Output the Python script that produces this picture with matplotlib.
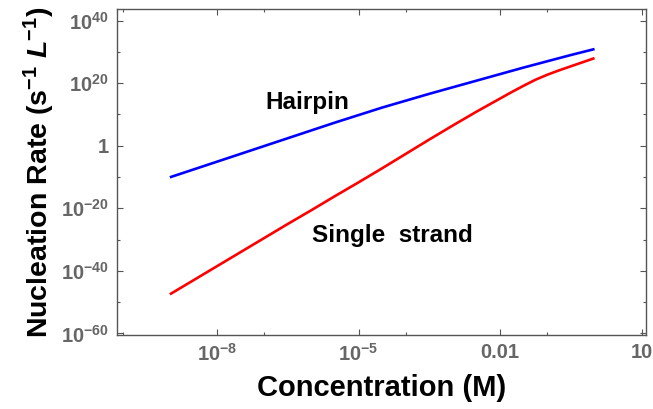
import numpy as np
import matplotlib
matplotlib.use("Agg")
import matplotlib.pyplot as plt
from matplotlib.ticker import FixedLocator, FixedFormatter, NullFormatter

plt.rcParams['font.family'] = ['Liberation Sans', 'DejaVu Sans']
plt.rcParams['mathtext.fontset'] = 'custom'
plt.rcParams['mathtext.rm'] = 'Liberation Sans:bold'
plt.rcParams['mathtext.bf'] = 'Liberation Sans:bold'
plt.rcParams['mathtext.it'] = 'Liberation Sans:italic:bold'
plt.rcParams['mathtext.bfit'] = 'Liberation Sans:italic:bold'

# Data (log10 of concentration in M, log10 of nucleation rate)
log_conc_h = [-9, -8.5, -8, -7.5, -7, -6.5, -6, -5.5, -5, -4.5, -4,
              -3.5, -3, -2.5, -2, -1.5, -1, -0.5, 0]
log_rate_hairpin = [-10.1, -7.6, -5.1, -2.6, -0.1, 2.4, 4.9, 7.4, 9.8, 12.2, 14.4,
                    16.6, 18.7, 20.8, 22.9, 25.0, 27.0, 29.0, 30.9]
log_conc_s = [-9, -8.5, -8, -7.5, -7, -6.5, -6, -5.5, -5, -4.5, -4,
              -3.5, -3, -2.5, -2, -1.75, -1.5, -1.25, -1, -0.75, -0.5, -0.25, 0]
log_rate_single = [-47.5, -43.0, -38.5, -34.0, -29.5, -25.0, -20.6, -16.1, -11.7, -7.2, -2.6,
                   2.0, 6.5, 10.9, 15.1, 17.2, 19.2, 21.1, 22.7, 24.1, 25.4, 26.7, 28.0]

x_ticks = [1e-8, 1e-5, 1e-2, 10]
x_ticklabels = [r'$10^{-8}$', r'$10^{-5}$', '0.01', '10']
x_minor = [1e-10, 1e-7, 1e-4, 1e-1]
y_ticks = [1e40, 1e20, 1, 1e-20, 1e-40, 1e-60]
y_ticklabels = [r'$10^{40}$', r'$10^{20}$', '1', r'$10^{-20}$', r'$10^{-40}$', r'$10^{-60}$']
y_minor = [1e30, 1e10, 1e-10, 1e-30, 1e-50]

conc_h = 10.0 ** np.array(log_conc_h)
conc_s = 10.0 ** np.array(log_conc_s)
rate_h = 10.0 ** np.array(log_rate_hairpin)
rate_s = 10.0 ** np.array(log_rate_single)

fig = plt.figure(figsize=(6.53, 4.09), dpi=100)
ax = fig.add_axes([117/653, 1 - 335/409, (646-117)/653, (335-9)/409])

ax.plot(conc_h, rate_h, color='#0000ff', lw=1.9, solid_capstyle='butt')
ax.plot(conc_s, rate_s, color='#ff0000', lw=1.9, solid_capstyle='butt')

ax.set_xscale('log')
ax.set_yscale('log')
ax.set_xlim(10**-10.12, 10**1.09)
ax.set_ylim(10**-60.5, 10**43.7)

ax.xaxis.set_major_locator(FixedLocator(x_ticks))
ax.xaxis.set_major_formatter(FixedFormatter(x_ticklabels))
ax.xaxis.set_minor_locator(FixedLocator(x_minor))
ax.xaxis.set_minor_formatter(NullFormatter())
ax.yaxis.set_major_locator(FixedLocator(y_ticks))
ax.yaxis.set_major_formatter(FixedFormatter(y_ticklabels))
ax.yaxis.set_minor_locator(FixedLocator(y_minor))
ax.yaxis.set_minor_formatter(NullFormatter())

frame_col = '#555555'
for s in ax.spines.values():
    s.set_color(frame_col)
    s.set_linewidth(1.0)
ax.tick_params(which='both', direction='in', top=True, right=True, colors=frame_col,
               labelcolor='#666666', labelsize=14.5)
ax.tick_params(which='major', length=4, width=0.8, pad=6)
ax.tick_params(which='minor', length=2.5, width=0.8)
for lab in ax.get_xticklabels() + ax.get_yticklabels():
    lab.set_fontweight('bold')

ax.set_xlabel('Concentration (M)', fontsize=21, fontweight='bold', labelpad=6)
ax.set_ylabel(r'Nucleation Rate (s$^{\mathbf{-1}}$ $\mathbfit{L}^{\mathbf{-1}}$)',
              fontsize=20.5, fontweight='bold', labelpad=3)

ax.text(10**-6.08, 10**13.7, 'Hairpin', fontsize=17.5, fontweight='bold',
        ha='center', va='center', color='black')
ax.text(10**-4.28, 10**-28.6, 'Single  strand', fontsize=17.5, fontweight='bold',
        ha='center', va='center', color='black')

fig.savefig('out.png', dpi=100)
